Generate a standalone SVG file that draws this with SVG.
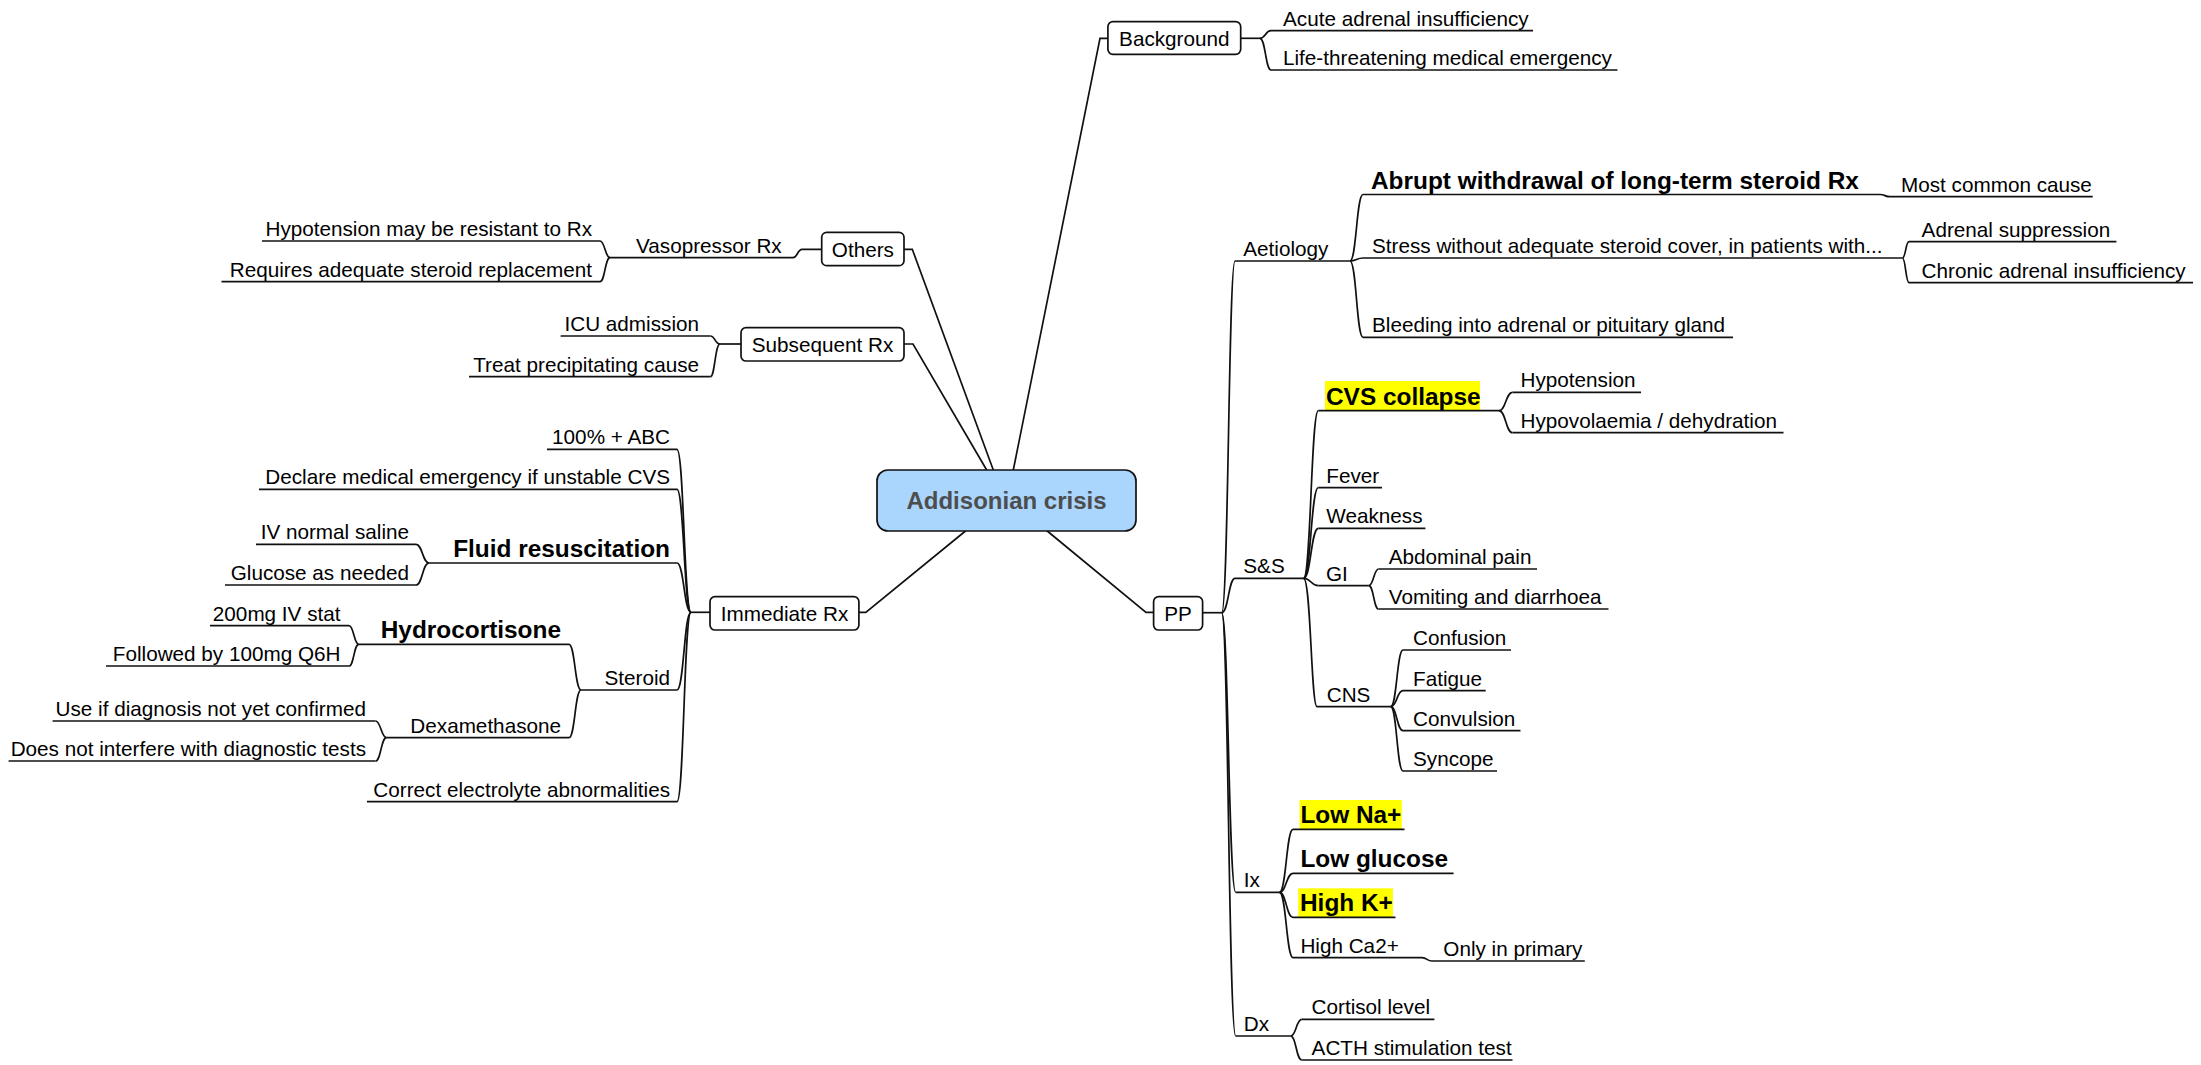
<svg xmlns="http://www.w3.org/2000/svg" width="2201" height="1065" viewBox="0 0 2201 1065">
<style>
  text { font-family: "Liberation Sans", Arial, sans-serif; fill: #000; }
  .t { font-size: 20.7px; }
  .b { font-size: 24.4px; font-weight: bold; }
  .e { text-anchor: end; }
  .c { text-anchor: middle; }
  .ul { stroke: #111; stroke-width: 1.7; fill: none; }
  .cn { stroke: #111; stroke-width: 1.7; fill: none; }
  .box { fill: #fff; stroke: #111; stroke-width: 1.7; }
  .hl { fill: #ffff00; }
</style>
<rect width="2201" height="1065" fill="#fff"/>

<!-- connectors -->
<g id="connectors" class="cn">
  <!-- central topic to main branches -->
  <path d="M858.9 612.3 H865.8 L966.7 530"/>
  <path d="M1153.6 612.3 H1146 L1046 530"/>
  <path d="M904 249.3 H912.3 L993.3 470"/>
  <path d="M904 344 H913 L986.7 470"/>
  <path d="M1107.9 38.3 H1100 L1013.3 470"/>
  <!-- Others -->
  <path d="M821.7 249.3 H802 C797.5 249.3 797.5 257.7 793 257.7"/>
  <path d="M610 257.7 C605 257.7 605 241 600 241"/>
  <path d="M610 257.7 C605 257.7 605 281.7 600 281.7"/>
  <!-- Subsequent Rx -->
  <path d="M741 344 H720"/>
  <path d="M720 344 C715 344 715 336 710.5 336"/>
  <path d="M720 344 C715 344 715 376.7 710.5 376.7"/>
  <!-- Immediate Rx -->
  <path d="M710 612.3 H691"/>
  <path d="M691 612.3 C684 612.3 684 449.3 677 449.3"/>
  <path d="M691 612.3 C684 612.3 684 489.3 677 489.3"/>
  <path d="M691 612.3 C684 612.3 684 563 677 563"/>
  <path d="M691 612.3 C684 612.3 684 690 677 690"/>
  <path d="M691 612.3 C684 612.3 684 801.7 677 801.7"/>
  <path d="M429 563 C422.5 563 422.5 544.3 416 544.3"/>
  <path d="M429 563 C422.5 563 422.5 585 416 585"/>
  <path d="M581 690 C575 690 575 644.3 569 644.3"/>
  <path d="M581 690 C575 690 575 737.7 569 737.7"/>
  <path d="M358.7 644.3 C353.9 644.3 353.9 625.7 349 625.7"/>
  <path d="M358.7 644.3 C353.9 644.3 353.9 666 349 666"/>
  <path d="M386.5 737.7 C381 737.7 381 721 375.5 721"/>
  <path d="M386.5 737.7 C381 737.7 381 761 375.5 761"/>
  <!-- Background -->
  <path d="M1240.7 38.3 H1260"/>
  <path d="M1260 38.3 C1265.5 38.3 1265.5 30.7 1271 30.7"/>
  <path d="M1260 38.3 C1265.5 38.3 1265.5 70 1271 70"/>
  <!-- PP -->
  <path d="M1202.6 612.7 H1221.7"/>
  <path d="M1221.7 612.7 C1228.5 612.7 1228.5 261 1235 261"/>
  <path d="M1221.7 612.7 C1228.5 612.7 1228.5 578.3 1235 578.3"/>
  <path d="M1221.7 612.7 C1228.5 612.7 1228.5 892.3 1235.7 892.3"/>
  <path d="M1221.7 612.7 C1228.5 612.7 1228.5 1036 1235.7 1036"/>
  <!-- Aetiology -->
  <path d="M1350 261 C1356.5 261 1356.5 194.5 1363 194.5"/>
  <path d="M1350 261 C1356.5 261 1356.5 258 1363 258"/>
  <path d="M1350 261 C1356.5 261 1356.5 337.3 1363 337.3"/>
  <path d="M1880 194.5 C1885 194.5 1885 196.7 1890 196.7"/>
  <path d="M1902.4 258 C1905.7 258 1905.7 241.7 1909 241.7"/>
  <path d="M1902.4 258 C1905.7 258 1905.7 282.7 1909 282.7"/>
  <!-- S&S -->
  <path d="M1303.6 578.3 C1311 578.3 1311 410.7 1318.3 410.7"/>
  <path d="M1303.6 578.3 C1311 578.3 1311 487.7 1318.3 487.7"/>
  <path d="M1303.6 578.3 C1311 578.3 1311 528.3 1318.3 528.3"/>
  <path d="M1303.6 578.3 C1311 578.3 1311 585.7 1318.3 585.7"/>
  <path d="M1303.6 578.3 C1311 578.3 1311 706.7 1317 706.7"/>
  <path d="M1499 410.7 C1505.8 410.7 1505.8 392.3 1512.5 392.3"/>
  <path d="M1499 410.7 C1505.8 410.7 1505.8 432.7 1512.5 432.7"/>
  <path d="M1368.8 585.7 C1373.7 585.7 1373.7 569 1378.6 569"/>
  <path d="M1368.8 585.7 C1373.7 585.7 1373.7 609 1378.6 609"/>
  <path d="M1390.7 706.7 C1396.9 706.7 1396.9 650 1403 650"/>
  <path d="M1390.7 706.7 C1396.9 706.7 1396.9 690.7 1403 690.7"/>
  <path d="M1390.7 706.7 C1396.9 706.7 1396.9 730.7 1403 730.7"/>
  <path d="M1390.7 706.7 C1396.9 706.7 1396.9 771 1403 771"/>
  <!-- Ix -->
  <path d="M1279.5 892.3 C1286.3 892.3 1286.3 829.3 1293 829.3"/>
  <path d="M1279.5 892.3 C1286.3 892.3 1286.3 873.3 1293 873.3"/>
  <path d="M1279.5 892.3 C1286.3 892.3 1286.3 917.3 1293 917.3"/>
  <path d="M1279.5 892.3 C1286.3 892.3 1286.3 957.7 1293 957.7"/>
  <path d="M1422 957.7 C1427 957.7 1427 961 1432 961"/>
  <!-- Dx -->
  <path d="M1290.6 1036 C1296.2 1036 1296.2 1019.3 1301.8 1019.3"/>
  <path d="M1290.6 1036 C1296.2 1036 1296.2 1060 1301.8 1060"/>
</g>

<!-- central topic -->
<g id="addisonian-crisis">
  <rect x="877" y="470" width="259" height="61" rx="11" fill="#aad5fd" stroke="#111" stroke-width="1.7"/>
  <text class="c" x="1006.5" y="508.5" style="font-size:24px;font-weight:bold;fill:#4d4d4d">Addisonian crisis</text>
</g>

<!-- main branches -->
<g id="background">
  <rect class="box" x="1107.9" y="21.7" width="132.8" height="32.6" rx="5"/>
  <text class="t c" x="1174.3" y="45.5">Background</text>
</g>
<g id="others">
  <rect class="box" x="821.7" y="232.3" width="82.3" height="33.4" rx="5"/>
  <text class="t c" x="862.9" y="256.5">Others</text>
</g>
<g id="subsequent-rx">
  <rect class="box" x="741" y="327.7" width="163" height="33.3" rx="5"/>
  <text class="t c" x="822.5" y="351.7">Subsequent Rx</text>
</g>
<g id="immediate-rx">
  <rect class="box" x="710" y="596.7" width="148.9" height="33.3" rx="5"/>
  <text class="t c" x="784.5" y="620.6">Immediate Rx</text>
</g>
<g id="pp">
  <rect class="box" x="1153.6" y="596.7" width="49" height="33.3" rx="5"/>
  <text class="t c" x="1178.1" y="620.6">PP</text>
</g>

<!-- Background children -->
<g id="acute-adrenal"><path class="ul" d="M1271 30.7 H1533"/><text class="t" x="1283" y="25.7">Acute adrenal insufficiency</text></g>
<g id="life-threatening"><path class="ul" d="M1271 70 H1617.5"/><text class="t" x="1283" y="65">Life-threatening medical emergency</text></g>

<!-- Others children -->
<g id="vasopressor"><path class="ul" d="M610 257.7 H793"/><text class="t e" x="781.7" y="252.7">Vasopressor Rx</text></g>
<g id="hypotension-resistant"><path class="ul" d="M262 241 H600"/><text class="t e" x="592" y="236">Hypotension may be resistant to Rx</text></g>
<g id="requires-steroid"><path class="ul" d="M221.5 281.7 H600"/><text class="t e" x="592" y="276.7">Requires adequate steroid replacement</text></g>

<!-- Subsequent Rx children -->
<g id="icu"><path class="ul" d="M560.6 336 H710.5"/><text class="t e" x="699" y="331">ICU admission</text></g>
<g id="treat-cause"><path class="ul" d="M469 376.7 H710.5"/><text class="t e" x="699" y="371.7">Treat precipitating cause</text></g>

<!-- Immediate Rx children -->
<g id="abc"><path class="ul" d="M547 449.3 H677"/><text class="t e" x="670" y="444.3">100% + ABC</text></g>
<g id="declare"><path class="ul" d="M259 489.3 H677"/><text class="t e" x="670" y="484.3">Declare medical emergency if unstable CVS</text></g>
<g id="fluid"><path class="ul" d="M429 563 H677"/><text class="b e" x="670" y="557">Fluid resuscitation</text></g>
<g id="iv-saline"><path class="ul" d="M256 544.3 H416"/><text class="t e" x="409" y="539.3">IV normal saline</text></g>
<g id="glucose-needed"><path class="ul" d="M225 585 H416"/><text class="t e" x="409" y="580">Glucose as needed</text></g>
<g id="steroid"><path class="ul" d="M581 690 H677"/><text class="t e" x="670" y="685">Steroid</text></g>
<g id="hydrocortisone"><path class="ul" d="M358.7 644.3 H569"/><text class="b e" x="561" y="638.3">Hydrocortisone</text></g>
<g id="dose-stat"><path class="ul" d="M210 625.7 H349"/><text class="t e" x="340.5" y="620.7">200mg IV stat</text></g>
<g id="dose-q6h"><path class="ul" d="M106 666 H349"/><text class="t e" x="340.5" y="661">Followed by 100mg Q6H</text></g>
<g id="dexamethasone"><path class="ul" d="M386.5 737.7 H569"/><text class="t e" x="561" y="732.7">Dexamethasone</text></g>
<g id="dexa-use"><path class="ul" d="M52.6 721 H375.5"/><text class="t e" x="366" y="716">Use if diagnosis not yet confirmed</text></g>
<g id="dexa-tests"><path class="ul" d="M8.6 761 H375.5"/><text class="t e" x="366" y="756">Does not interfere with diagnostic tests</text></g>
<g id="electrolytes"><path class="ul" d="M367 801.7 H677"/><text class="t e" x="670" y="796.7">Correct electrolyte abnormalities</text></g>

<!-- PP: Aetiology -->
<g id="aetiology"><path class="ul" d="M1235 261 H1350"/><text class="t" x="1243.3" y="256">Aetiology</text></g>
<g id="abrupt-withdrawal"><path class="ul" d="M1363 194.5 H1880"/><text class="b" x="1371" y="188.5">Abrupt withdrawal of long-term steroid Rx</text></g>
<g id="most-common"><path class="ul" d="M1890 196.7 H2092.7"/><text class="t" x="1901" y="191.7">Most common cause</text></g>
<g id="stress"><path class="ul" d="M1363 258 H1902.4"/><text class="t" x="1372" y="253">Stress without adequate steroid cover, in patients with...</text></g>
<g id="adrenal-suppression"><path class="ul" d="M1909 241.7 H2116.4"/><text class="t" x="1921.6" y="236.7">Adrenal suppression</text></g>
<g id="chronic-insufficiency"><path class="ul" d="M1909 282.7 H2193"/><text class="t" x="1921.6" y="277.7">Chronic adrenal insufficiency</text></g>
<g id="bleeding"><path class="ul" d="M1363 337.3 H1733"/><text class="t" x="1372" y="332.3">Bleeding into adrenal or pituitary gland</text></g>

<!-- PP: S&S -->
<g id="s-and-s"><path class="ul" d="M1235 578.3 H1303.6"/><text class="t" x="1243.3" y="573.3">S&amp;S</text></g>
<g id="cvs-collapse"><rect class="hl" x="1325" y="381" width="155" height="29.5"/><path class="ul" d="M1318.3 410.7 H1499"/><text class="b" x="1326" y="404.5">CVS collapse</text></g>
<g id="hypotension"><path class="ul" d="M1512.5 392.3 H1641"/><text class="t" x="1520.5" y="387.3">Hypotension</text></g>
<g id="hypovolaemia"><path class="ul" d="M1512.5 432.7 H1783.5"/><text class="t" x="1520.5" y="427.7">Hypovolaemia / dehydration</text></g>
<g id="fever"><path class="ul" d="M1318.3 487.7 H1382"/><text class="t" x="1326.3" y="482.7">Fever</text></g>
<g id="weakness"><path class="ul" d="M1318.3 528.3 H1425.4"/><text class="t" x="1326.3" y="523.3">Weakness</text></g>
<g id="gi"><path class="ul" d="M1318.3 585.7 H1368.8"/><text class="t" x="1326" y="580.7">GI</text></g>
<g id="abdominal-pain"><path class="ul" d="M1378.6 569 H1537"/><text class="t" x="1388.8" y="564">Abdominal pain</text></g>
<g id="vomiting"><path class="ul" d="M1378.6 609 H1608.5"/><text class="t" x="1388.8" y="604">Vomiting and diarrhoea</text></g>
<g id="cns"><path class="ul" d="M1317 706.7 H1390.7"/><text class="t" x="1326.7" y="701.7">CNS</text></g>
<g id="confusion"><path class="ul" d="M1403 650 H1511"/><text class="t" x="1413" y="645">Confusion</text></g>
<g id="fatigue"><path class="ul" d="M1403 690.7 H1485.7"/><text class="t" x="1413" y="685.7">Fatigue</text></g>
<g id="convulsion"><path class="ul" d="M1403 730.7 H1520.5"/><text class="t" x="1413" y="725.7">Convulsion</text></g>
<g id="syncope"><path class="ul" d="M1403 771 H1497"/><text class="t" x="1413" y="766">Syncope</text></g>

<!-- PP: Ix -->
<g id="ix"><path class="ul" d="M1235.7 892.3 H1279.5"/><text class="t" x="1243.8" y="887.3">Ix</text></g>
<g id="low-na"><rect class="hl" x="1299.5" y="800" width="102.3" height="29.3"/><path class="ul" d="M1293 829.3 H1404.5"/><text class="b" x="1300.4" y="823">Low Na+</text></g>
<g id="low-glucose"><path class="ul" d="M1293 873.3 H1453.6"/><text class="b" x="1300.4" y="867">Low glucose</text></g>
<g id="high-k"><rect class="hl" x="1298.2" y="888.3" width="94.7" height="28.6"/><path class="ul" d="M1293 917.3 H1395.5"/><text class="b" x="1300" y="911">High K+</text></g>
<g id="high-ca"><path class="ul" d="M1293 957.7 H1422"/><text class="t" x="1300.4" y="952.7">High Ca2+</text></g>
<g id="only-primary"><path class="ul" d="M1432 961 H1584.8"/><text class="t" x="1443.3" y="956">Only in primary</text></g>

<!-- PP: Dx -->
<g id="dx"><path class="ul" d="M1235.7 1036 H1290.6"/><text class="t" x="1243.8" y="1031">Dx</text></g>
<g id="cortisol"><path class="ul" d="M1301.8 1019.3 H1434.4"/><text class="t" x="1311.6" y="1014.3">Cortisol level</text></g>
<g id="acth"><path class="ul" d="M1301.8 1060 H1512.5"/><text class="t" x="1311.6" y="1055">ACTH stimulation test</text></g>
</svg>
